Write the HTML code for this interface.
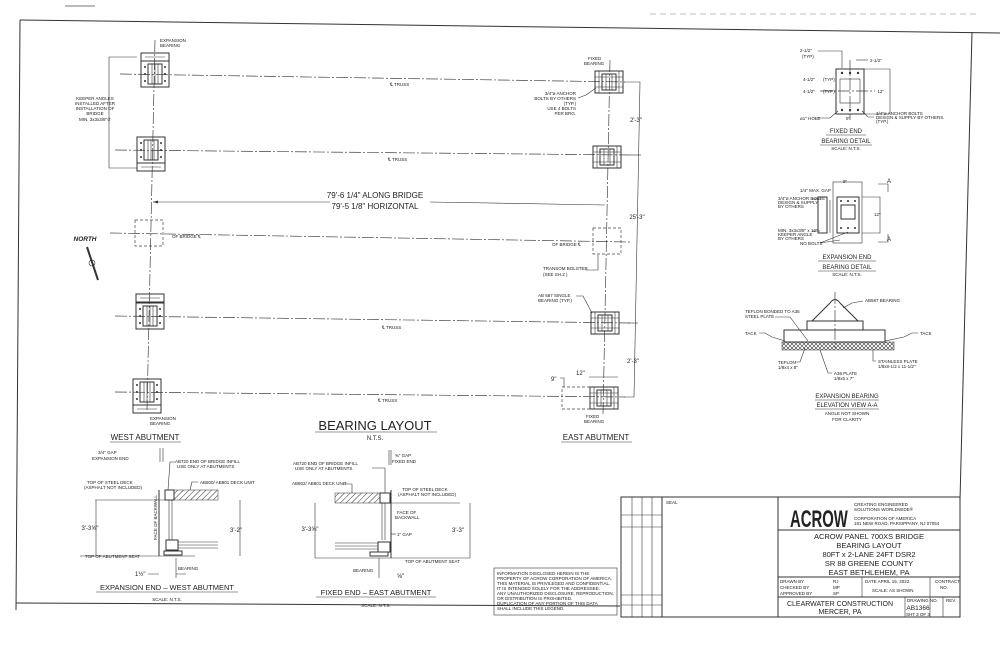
<!DOCTYPE html>
<html><head><meta charset="utf-8"><style>
html,body{margin:0;padding:0;background:#fff}
svg{display:block}
text{font-family:"Liberation Sans",sans-serif;fill:#222}
.s{font-size:4.5px}
.m{font-size:6px}
.l{font-size:8px}
.ln{stroke:#333;stroke-width:1;fill:none}
.th{stroke:#333;stroke-width:.6;fill:none}
.cl{stroke:#444;stroke-width:.7;fill:none;stroke-dasharray:12 2 2 2}
.dd{stroke:#444;stroke-width:.7;fill:none;stroke-dasharray:3 2}
</style></head><body>
<svg width="1000" height="647" viewBox="0 0 1000 647" xmlns="http://www.w3.org/2000/svg">
<defs>
<pattern id="h" width="4" height="4" patternUnits="userSpaceOnUse" patternTransform="rotate(45)"><line x1="0" y1="0" x2="0" y2="4" stroke="#333" stroke-width="1"/></pattern>
<pattern id="x" width="4" height="4" patternUnits="userSpaceOnUse"><path d="M0,0L4,4M4,0L0,4" stroke="#333" stroke-width=".6"/></pattern>
<g id="wb">
<rect x="-14" y="-13" width="28" height="26" class="ln"/>
<rect x="-7" y="-10" width="14" height="20" class="ln"/>
<line x1="-3" y1="-10" x2="-3" y2="10" class="th"/><line x1="0" y1="-10" x2="0" y2="10" class="th"/><line x1="3" y1="-10" x2="3" y2="10" class="th"/>
<circle cx="-10" cy="-7" r="1" fill="#333"/><circle cx="-10" cy="0" r="1" fill="#333"/><circle cx="-10" cy="7" r="1" fill="#333"/>
<circle cx="10" cy="-7" r="1" fill="#333"/><circle cx="10" cy="0" r="1" fill="#333"/><circle cx="10" cy="7" r="1" fill="#333"/>
</g>
<g id="eb">
<rect x="-14" y="-11" width="28" height="22" class="ln"/>
<rect x="-7" y="-8" width="14" height="16" class="ln"/>
<line x1="-14" y1="-5" x2="14" y2="-5" class="th"/><line x1="-14" y1="5" x2="14" y2="5" class="th"/>
<line x1="-10" y1="-11" x2="-10" y2="11" class="th"/><line x1="10" y1="-11" x2="10" y2="11" class="th"/>
<line x1="-3" y1="-8" x2="-3" y2="8" class="th"/><line x1="3" y1="-8" x2="3" y2="8" class="th"/>
</g>
<g id="pl"><rect x="-14" y="-4" width="28" height="8" class="ln"/><line x1="-10" y1="0" x2="10" y2="0" class="th"/></g>
</defs>

<line x1="65" y1="6" x2="95" y2="6" stroke="#777" stroke-width="1"/>
<line x1="650" y1="14" x2="980" y2="14" stroke="#aaa" stroke-width=".8" stroke-dasharray="6 4"/>
<path d="M20,20 L1000,33" class="ln"/>
<path d="M20,20 L16,610" class="ln"/>
<path d="M972,32 L960,500" class="ln"/>
<path d="M16,603 L620,606" class="ln"/>

<line x1="155" y1="40" x2="147" y2="410" class="cl"/>
<line x1="610" y1="60" x2="603" y2="415" class="cl"/>
<line x1="120" y1="74" x2="625" y2="82" class="cl"/>
<line x1="115" y1="150" x2="630" y2="155" class="cl"/>
<line x1="110" y1="233" x2="630" y2="242" class="cl"/>
<line x1="115" y1="316" x2="630" y2="323" class="cl"/>
<line x1="115" y1="392" x2="625" y2="397" class="cl"/>

<use href="#wb" x="155" y="74"/><use href="#pl" x="155" y="57"/>
<use href="#wb" x="151" y="150"/><use href="#pl" x="151" y="167"/>
<use href="#wb" x="150" y="316"/><use href="#pl" x="150" y="298"/>
<use href="#wb" x="147" y="392"/><use href="#pl" x="147" y="409"/>
<rect x="135" y="220" width="28" height="26" class="dd"/>
<rect x="593" y="228" width="28" height="26" class="dd"/>

<use href="#eb" x="609" y="82"/>
<use href="#eb" x="607" y="157"/>
<use href="#eb" x="605" y="323"/>
<use href="#eb" x="604" y="398"/>

<text x="160" y="42" class="s">EXPANSION</text><text x="160" y="47" class="s">BEARING</text>
<text x="150" y="420" class="s">EXPANSION</text><text x="150" y="425" class="s">BEARING</text>
<text x="588" y="60" class="s">FIXED</text><text x="584" y="65" class="s">BEARING</text>
<text x="586" y="418" class="s">FIXED</text><text x="584" y="423" class="s">BEARING</text>

<path d="M137,57 L109,57 L109,168 L137,168" class="th"/>
<text x="95" y="100" class="s" text-anchor="middle">KEEPER ANGLES</text>
<text x="95" y="105" class="s" text-anchor="middle">INSTALLED AFTER</text>
<text x="95" y="110" class="s" text-anchor="middle">INSTALLATION OF</text>
<text x="95" y="115" class="s" text-anchor="middle">BRIDGE</text>
<text x="95" y="121" class="s" text-anchor="middle">MIN. 3x3x3/8"⊄</text>

<text x="576" y="95" class="s" text-anchor="end">3/4"ø ANCHOR</text>
<text x="576" y="100" class="s" text-anchor="end">BOLTS BY OTHERS</text>
<text x="576" y="105" class="s" text-anchor="end">(TYP.)</text>
<text x="576" y="110" class="s" text-anchor="end">USE 4 BOLTS</text>
<text x="576" y="115" class="s" text-anchor="end">PER BRG.</text>
<path d="M578,98 L586,95 L596,88" class="th"/>

<text x="390" y="86" class="s">℄ TRUSS</text>
<text x="388" y="161" class="s">℄ TRUSS</text>
<text x="382" y="329" class="s">℄ TRUSS</text>
<text x="378" y="402" class="s">℄ TRUSS</text>
<text x="172" y="238" class="s">OF BRIDGE ℄</text>
<text x="552" y="246" class="s">OF BRIDGE ℄</text>
<text x="543" y="270" class="s">TRANSOM BOLSTER</text><text x="543" y="276" class="s">(SEE SH.2 )</text>
<path d="M585,270 L598,270 L598,255" class="th"/>
<text x="538" y="297" class="s">AB 587 SINGLE</text><text x="538" y="302" class="s">BEARING (TYP.)</text>
<path d="M576,296 L583,296 L592,313" class="th"/>

<line x1="153" y1="202" x2="330" y2="202" class="th"/>
<line x1="430" y1="202" x2="605" y2="205" class="th"/>
<path d="M153,202 l5,-1.5 v3z" fill="#333"/>
<text x="375" y="198" class="l" text-anchor="middle">79'-6 1/4" ALONG BRIDGE</text>
<text x="375" y="209" class="l" text-anchor="middle">79'-5 1/8" HORIZONTAL</text>

<path d="M624,82 L640,82 L634,397 L624,397" class="th"/>
<line x1="630" y1="155" x2="641" y2="155" class="th"/>
<line x1="628" y1="323" x2="638" y2="323" class="th"/>
<text x="636" y="122" class="m" text-anchor="middle">2'-3"</text>
<text x="637" y="219" class="m" text-anchor="middle">25'-3"</text>
<text x="633" y="363" class="m" text-anchor="middle">2'-3"</text>
<rect x="562" y="387" width="28" height="22" class="dd"/>
<text x="551" y="381" class="m">9"</text><path d="M560,378 L564,378 L564,387" class="th"/>
<text x="576" y="375" class="m">12"</text><path d="M589,377 L618,377" class="th"/>

<text x="85" y="241" font-size="6.5" font-style="italic" font-weight="bold" font-family="Liberation Serif" text-anchor="middle">NORTH</text>
<path d="M87,247 L98,280" stroke="#333" stroke-width="2"/>
<circle cx="92" cy="263" r="3" class="th"/>

<text x="375" y="430" font-size="13" text-anchor="middle">BEARING LAYOUT</text>
<line x1="315" y1="432" x2="437" y2="432" class="th"/>
<text x="375" y="440" class="m" text-anchor="middle">N.T.S.</text>
<text x="145" y="440" font-size="8" text-anchor="middle">WEST ABUTMENT</text>
<line x1="110" y1="442" x2="181" y2="442" class="th"/>
<text x="596" y="440" font-size="8" text-anchor="middle">EAST ABUTMENT</text>
<line x1="561" y1="442" x2="632" y2="442" class="th"/>

<rect x="836" y="69" width="28" height="45" class="ln"/>
<rect x="840" y="79" width="20" height="24" class="th"/>
<circle cx="842" cy="73" r="1.2" fill="#333"/><circle cx="850" cy="73" r="1.2" fill="#333"/><circle cx="858" cy="73" r="1.2" fill="#333"/>
<circle cx="842" cy="110" r="1.2" fill="#333"/><circle cx="850" cy="110" r="1.2" fill="#333"/><circle cx="858" cy="110" r="1.2" fill="#333"/>
<line x1="850" y1="60" x2="850" y2="120" class="cl"/>
<line x1="820" y1="91" x2="875" y2="91" class="cl"/>
<path d="M864,69 L890,69 L890,114 L864,114" class="th"/>
<text x="884" y="93" class="s" text-anchor="end">12"</text>
<text x="800" y="52" class="s">2-1/2"</text><text x="802" y="58" class="s">(TYP)</text>
<path d="M818,51 L842,51 L842,68" class="th"/>
<path d="M856,60 L868,60" class="th"/><text x="870" y="62" class="s">2-1/2"</text>
<text x="803" y="81" class="s">4-1/2"</text><text x="823" y="81" class="s">(TYP)</text>
<text x="803" y="93" class="s">4-1/2"</text><text x="823" y="93" class="s">(TYP)</text>
<text x="800" y="120" class="s">ø1" HOLE</text><path d="M815,118 L830,118 L838,111" class="th"/>
<text x="846" y="120" class="s">9"</text>
<text x="876" y="115" class="s">3/4"ø ANCHOR BOLTS</text><text x="876" y="119" class="s">DESIGN &amp; SUPPLY BY OTHERS.</text><text x="876" y="123" class="s">(TYP.)</text>
<path d="M874,117 L868,117 L862,111" class="th"/>
<text x="846" y="133" class="m" text-anchor="middle">FIXED END</text>
<text x="846" y="143" class="m" text-anchor="middle">BEARING DETAIL</text>
<line x1="826" y1="135" x2="866" y2="135" class="th"/><line x1="820" y1="145" x2="872" y2="145" class="th"/>
<text x="846" y="150" class="s" text-anchor="middle">SCALE: N.T.S.</text>

<rect x="833" y="182" width="29" height="61" class="th"/>
<rect x="837" y="197" width="22" height="36" class="ln"/>
<rect x="841" y="205" width="14" height="14" class="ln"/>
<circle cx="841" cy="201" r="1" fill="#333"/><circle cx="848" cy="201" r="1" fill="#333"/><circle cx="855" cy="201" r="1" fill="#333"/>
<circle cx="841" cy="228" r="1" fill="#333"/><circle cx="848" cy="228" r="1" fill="#333"/><circle cx="855" cy="228" r="1" fill="#333"/>
<rect x="818" y="197" width="9" height="36" class="ln"/>
<line x1="830" y1="200" x2="830" y2="233" class="th"/>
<path d="M862,197 L880,197 L880,233 L862,233" class="th"/>
<text x="874" y="216" class="s">12"</text>
<text x="843" y="183" class="s">9"</text>
<text x="800" y="192" class="s">1/4" MAX. GAP</text>
<text x="778" y="200" class="s">3/4"ø ANCHOR BOLTS</text><text x="778" y="204" class="s">DESIGN &amp; SUPPLY</text><text x="778" y="208" class="s">BY OTHERS</text>
<path d="M812,199 L822,199" class="th"/>
<text x="778" y="232" class="s">MIN. 3x3x3/8" x 12"</text><text x="778" y="236" class="s">KEEPER ANGLE</text><text x="778" y="240" class="s">BY OTHERS</text>
<path d="M812,231 L820,231" class="th"/>
<text x="800" y="245" class="s">NO BOLTS</text><path d="M820,243 L840,240 M820,243 L848,232" class="th"/>
<path d="M878,184 L888,184 L888,192 M878,242 L888,242 L888,234" class="th"/>
<text x="887" y="183" class="m">A</text><text x="887" y="241" class="m">A</text>
<text x="847" y="259" class="m" text-anchor="middle">EXPANSION END</text>
<text x="847" y="269" class="m" text-anchor="middle">BEARING DETAIL</text>
<line x1="818" y1="261" x2="876" y2="261" class="th"/><line x1="818" y1="271" x2="876" y2="271" class="th"/>
<text x="847" y="276" class="s" text-anchor="middle">SCALE: N.T.S.</text>

<rect x="784" y="330" width="101" height="12" class="ln"/>
<rect x="807" y="321" width="56" height="9" class="ln"/>
<path d="M812,321 L830,303 Q835,296 840,303 L858,321" class="ln"/>
<line x1="835" y1="292" x2="835" y2="348" class="cl"/>
<rect x="782" y="342" width="112" height="8" fill="url(#x)" stroke="#333" stroke-width=".5"/>
<text x="865" y="302" class="s">AB587 BEARING</text><path d="M863,301 L852,303 L843,308" class="th"/>
<text x="745" y="313" class="s">TEFLON BONDED TO A36</text><text x="745" y="318" class="s">STEEL PLATE</text><path d="M775,317 L790,317 L808,341" class="th"/>
<text x="745" y="335" class="s">TACK</text><path d="M759,333 L765,333 L772,337 L785,341" class="th"/>
<text x="920" y="335" class="s">TACK</text><path d="M918,333 L912,333 L904,337 L885,341" class="th"/>
<text x="778" y="364" class="s">TEFLON</text><text x="778" y="369" class="s">1/8x4 x 8"</text><path d="M795,362 L800,362 L805,348" class="th"/>
<text x="834" y="375" class="s">A36 PLATE</text><text x="834" y="380" class="s">1/8x5 x 7"</text><path d="M832,373 L828,373 L820,350" class="th"/>
<text x="878" y="363" class="s">STAINLESS PLATE</text><text x="878" y="368" class="s">1/8x8-1/2 x 11-1/2"</text><path d="M876,361 L873,361 L873,350" class="th"/>
<text x="847" y="398" class="m" text-anchor="middle">EXPANSION BEARING</text>
<text x="847" y="407" class="m" text-anchor="middle">ELEVATION VIEW A-A</text>
<line x1="815" y1="400" x2="879" y2="400" class="th"/><line x1="815" y1="409" x2="879" y2="409" class="th"/>
<text x="847" y="415" class="s" text-anchor="middle">ANGLE NOT SHOWN</text>
<text x="847" y="421" class="s" text-anchor="middle">FOR CLARITY</text>

<rect x="174" y="490" width="44" height="10" fill="url(#h)" stroke="#333" stroke-width=".5"/>
<rect x="165" y="490" width="9" height="10" class="ln"/>
<line x1="159" y1="490" x2="159" y2="556" class="ln"/>
<line x1="95" y1="500" x2="165" y2="500" class="th"/>
<line x1="169" y1="500" x2="169" y2="540" class="th"/><line x1="172" y1="500" x2="172" y2="540" class="th"/>
<rect x="166" y="540" width="12" height="10" class="ln"/>
<line x1="178" y1="542" x2="218" y2="542" class="th"/><line x1="178" y1="545" x2="218" y2="545" class="th"/><line x1="178" y1="548" x2="218" y2="548" class="th"/>
<rect x="164" y="551" width="18" height="4" class="ln"/>
<line x1="80" y1="556" x2="195" y2="556" class="th"/>
<line x1="96" y1="500" x2="96" y2="556" class="th"/>
<line x1="240" y1="500" x2="240" y2="556" class="th"/>
<text x="90" y="530" class="m" text-anchor="middle">3'-3⅝"</text>
<text x="230" y="532" class="m">3'-2"</text>
<text x="157" y="540" class="s" transform="rotate(-90 157 540)">FACE OF BACKWALL</text>
<text x="98" y="454" class="s">3/4" GAP</text><text x="92" y="460" class="s">EXPANSION END</text>
<line x1="160" y1="448" x2="160" y2="462" class="th"/><line x1="163" y1="448" x2="163" y2="462" class="th"/>
<text x="175" y="463" class="s">AB720 END OF BRIDGE INFILL</text><text x="177" y="468" class="s">USE ONLY AT ABUTMENTS</text>
<path d="M175,462 L170,462 L168,490" class="th"/>
<text x="200" y="484" class="s">AB800/ AB801 DECK UNIT</text><path d="M198,482 L192,482 L190,490" class="th"/>
<text x="87" y="484" class="s">TOP OF STEEL DECK</text><text x="84" y="489" class="s">(ASPHALT NOT INCLUDED)</text>
<text x="85" y="558" class="s">TOP OF ABUTMENT SEAT</text>
<text x="178" y="570" class="s">BEARING</text><line x1="176" y1="558" x2="176" y2="578" class="th"/>
<text x="135" y="576" class="m">1½"</text><path d="M148,574 L159,574 M176,574 L186,574" class="th"/>
<text x="167" y="590" font-size="7.5" text-anchor="middle">EXPANSION END  –  WEST ABUTMENT</text>
<line x1="96" y1="592" x2="238" y2="592" class="th"/>
<text x="167" y="601" class="s" text-anchor="middle">SCALE: N.T.S.</text>

<rect x="335" y="493" width="45" height="10" fill="url(#h)" stroke="#333" stroke-width=".5"/>
<rect x="380" y="493" width="10" height="10" class="ln"/>
<line x1="391" y1="490" x2="391" y2="558" class="ln"/>
<line x1="391" y1="503" x2="460" y2="503" class="th"/>
<line x1="385" y1="503" x2="385" y2="540" class="th"/><line x1="382" y1="503" x2="382" y2="540" class="th"/>
<rect x="378" y="542" width="12" height="10" class="ln"/>
<line x1="335" y1="543" x2="378" y2="543" class="th"/><line x1="335" y1="546" x2="378" y2="546" class="th"/><line x1="335" y1="549" x2="378" y2="549" class="th"/>
<rect x="370" y="552" width="18" height="4" class="ln"/>
<line x1="315" y1="558" x2="470" y2="558" class="th"/>
<line x1="315" y1="503" x2="315" y2="558" class="th"/>
<line x1="470" y1="503" x2="470" y2="558" class="th"/>
<text x="310" y="531" class="m" text-anchor="middle">3'-3⅝"</text>
<text x="452" y="532" class="m">3'-3"</text>
<text x="397" y="514" class="s">FACE OF</text><text x="395" y="519" class="s">BACKWALL</text>
<text x="397" y="536" class="s">1" GAP</text><line x1="391" y1="534" x2="396" y2="534" class="th"/>
<text x="395" y="457" class="s">⅜" GAP</text><text x="392" y="463" class="s">FIXED END</text>
<line x1="389" y1="450" x2="389" y2="465" class="th"/><line x1="391" y1="450" x2="391" y2="465" class="th"/>
<text x="293" y="465" class="s">AB720 END OF BRIDGE INFILL</text><text x="295" y="470" class="s">USE ONLY AT ABUTMENTS</text>
<path d="M372,468 L385,468 L385,493" class="th"/>
<text x="292" y="485" class="s">AB802/ AB801 DECK UNIT</text><path d="M343,484 L352,484 L352,493" class="th"/>
<text x="402" y="491" class="s">TOP OF STEEL DECK</text><text x="398" y="496" class="s">(ASPHALT NOT INCLUDED)</text>
<text x="405" y="563" class="s">TOP OF ABUTMENT SEAT</text>
<text x="353" y="572" class="s">BEARING</text><line x1="379" y1="558" x2="379" y2="578" class="th"/>
<text x="397" y="578" class="m">⅝"</text>
<text x="376" y="595" font-size="7.5" text-anchor="middle">FIXED END  –  EAST ABUTMENT</text>
<line x1="316" y1="597" x2="436" y2="597" class="th"/>
<text x="376" y="607" class="s" text-anchor="middle">SCALE: N.T.S.</text>

<rect x="494" y="568" width="123" height="47" class="th"/>
<g class="s">
<text x="497" y="575">INFORMATION DISCLOSED HEREIN IS THE</text>
<text x="497" y="580">PROPERTY OF ACROW CORPORATION OF AMERICA.</text>
<text x="497" y="585">THIS MATERIAL IS PRIVILEGED AND CONFIDENTIAL.</text>
<text x="497" y="590">IT IS INTENDED SOLELY FOR THE ADDRESSEE.</text>
<text x="497" y="595">ANY UNAUTHORIZED DISCLOSURE, REPRODUCTION,</text>
<text x="497" y="600">OR DISTRIBUTION IS PROHIBITED.</text>
<text x="497" y="605">DUPLICATION OF ANY PORTION OF THIS DATA</text>
<text x="497" y="610">SHALL INCLUDE THIS LEGEND.</text>
</g>

<rect x="621" y="497" width="339" height="120" class="ln"/>
<line x1="632" y1="497" x2="632" y2="617" class="th"/>
<line x1="642" y1="497" x2="642" y2="617" class="th"/>
<line x1="652" y1="497" x2="652" y2="617" class="th"/>
<line x1="662" y1="497" x2="662" y2="617" class="ln"/>
<line x1="621" y1="515" x2="662" y2="515" class="th"/>
<line x1="621" y1="527" x2="662" y2="527" class="th"/>
<line x1="621" y1="595" x2="662" y2="595" class="th"/>
<line x1="621" y1="605" x2="662" y2="605" class="th"/>
<text x="666" y="504" class="s">SEAL</text>
<line x1="778" y1="497" x2="778" y2="617" class="ln"/>
<line x1="778" y1="530" x2="960" y2="530" class="ln"/>
<line x1="778" y1="577" x2="960" y2="577" class="ln"/>
<line x1="778" y1="597" x2="960" y2="597" class="ln"/>
<line x1="862" y1="577" x2="862" y2="597" class="th"/>
<line x1="930" y1="577" x2="930" y2="617" class="th"/>
<line x1="905" y1="597" x2="905" y2="617" class="th"/>
<line x1="943" y1="597" x2="943" y2="617" class="th"/>
<text x="0" y="0" font-size="24" font-weight="bold" transform="translate(790 527) scale(0.62 1)">ACROW</text>
<text x="854" y="506" class="s">CREATING ENGINEERED</text><text x="854" y="511" class="s">SOLUTIONS WORLDWIDE®</text>
<text x="854" y="520" class="s">CORPORATION OF AMERICA</text><text x="854" y="525" class="s">181 NEW ROAD, PARSIPPANY, NJ 07054</text>
<text x="869" y="539" font-size="7.5" text-anchor="middle">ACROW PANEL 700XS BRIDGE</text>
<text x="869" y="548" font-size="7.5" text-anchor="middle">BEARING LAYOUT</text>
<text x="869" y="557" font-size="7.5" text-anchor="middle">80FT x 2-LANE 24FT DSR2</text>
<text x="869" y="566" font-size="7.5" text-anchor="middle">SR 88 GREENE COUNTY</text>
<text x="869" y="575" font-size="7.5" text-anchor="middle">EAST BETHLEHEM, PA</text>
<text x="780" y="583" class="s">DRAWN BY</text><text x="780" y="589" class="s">CHECKED BY</text><text x="780" y="595" class="s">APPROVED BY</text>
<text x="833" y="583" class="s">RJ</text><text x="833" y="589" class="s">MP</text><text x="833" y="595" class="s">SP</text>
<text x="865" y="583" class="s">DATE  APRIL 15, 2022</text>
<text x="872" y="592" class="s">SCALE: AS SHOWN</text>
<text x="935" y="583" class="s">CONTRACT</text><text x="940" y="589" class="s">NO.</text>
<text x="840" y="606" font-size="7" text-anchor="middle">CLEARWATER CONSTRUCTION</text>
<text x="840" y="614" font-size="7" text-anchor="middle">MERCER, PA</text>
<text x="907" y="602" class="s">DRAWING NO.</text>
<text x="918" y="610" font-size="6.5" text-anchor="middle">AB1366</text>
<text x="906" y="616" class="s">SHT 3 OF 3</text>
<text x="946" y="602" class="s">REV.</text>
</svg>
</body></html>
